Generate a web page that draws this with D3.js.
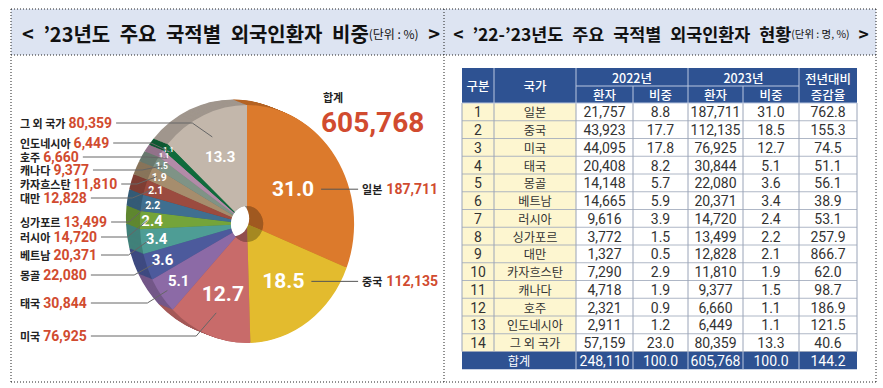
<!DOCTYPE html>
<html>
<head>
<meta charset="utf-8">
<script src="https://cdn.jsdelivr.net/npm/d3@7"></script>
<style>
  body { margin: 0; background: #fff; }
  svg { display: block; font-family: "Noto Sans CJK KR", "Noto Sans", sans-serif; }
  .num { font-family: Roboto, "Noto Sans", sans-serif; font-weight: 700; }
  .digits { font-family: Roboto, "Noto Sans", sans-serif; }
</style>
</head>
<body>
<svg id="chart" width="883" height="388"></svg>
<script>
const countries = ["일본", "중국", "미국", "태국", "몽골", "베트남", "러시아", "싱가포르", "대만", "카자흐스탄", "캐나다", "호주", "인도네시아", "그 외 국가"];
const patients2022 = [21757, 43923, 44095, 20408, 14148, 14665, 9616, 3772, 1327, 7290, 4718, 2321, 2911, 57159];
const share2022 = [8.8, 17.7, 17.8, 8.2, 5.7, 5.9, 3.9, 1.5, 0.5, 2.9, 1.9, 0.9, 1.2, 23.0];
const patients2023 = [187711, 112135, 76925, 30844, 22080, 20371, 14720, 13499, 12828, 11810, 9377, 6660, 6449, 80359];
const share2023 = [31.0, 18.5, 12.7, 5.1, 3.6, 3.4, 2.4, 2.2, 2.1, 1.9, 1.5, 1.1, 1.1, 13.3];
const growth = [762.8, 155.3, 74.5, 51.1, 56.1, 38.9, 53.1, 257.9, 866.7, 62.0, 98.7, 186.9, 121.5, 40.6];
const totalRow = ["합계", 248110, 100.0, 605768, 100.0, 144.2];
const sliceColors = ["#dc7a2c", "#e3bb2e", "#c86b6a", "#8c6aa6", "#4c5a9c", "#4e9d95", "#74a43a",
  "#3f6f90", "#9b4b3f", "#a68d6d", "#7f9386", "#b28ba8", "#0f6b3c", "#c3b7ab"];
// hand-placed rows of the left call-out labels (미국 ... 그 외 국가)
const leftLabelY = [336, 303, 275, 255, 237, 222, 198, 184, 170, 157, 143, 123];

const data = countries.map((name, i) => ({
  name, rank: i + 1, p2022: patients2022[i], s2022: share2022[i],
  p2023: patients2023[i], s2023: share2023[i], growth: growth[i], color: sliceColors[i],
}));

const svg = d3.select("#chart");
const comma = d3.format(",");
const one = d3.format(".1f");

// ---------- frame ----------
const frame = { x0: 11, x1: 876, y0: 9, y1: 382, yHead: 55, xMid: 444 };
svg.append("rect").attr("x", frame.x0).attr("y", frame.y0)
  .attr("width", frame.x1 - frame.x0).attr("height", frame.yHead - frame.y0).attr("fill", "#dde4f2");
const edges = [
  [frame.x0, frame.y0, frame.x1, frame.y0], [frame.x0, frame.yHead, frame.x1, frame.yHead],
  [frame.x0, frame.y1, frame.x1, frame.y1], [frame.x0, frame.y0, frame.x0, frame.y1],
  [frame.x1, frame.y0, frame.x1, frame.y1], [frame.xMid, frame.y0, frame.xMid, frame.y1],
];
svg.selectAll("line.frame").data(edges).join("line").attr("class", "frame")
  .attr("x1", (d) => d[0]).attr("y1", (d) => d[1]).attr("x2", (d) => d[2]).attr("y2", (d) => d[3])
  .attr("stroke", "#222").attr("stroke-width", 1).attr("stroke-dasharray", "1 2");

function title(cx, main, unit, width) {
  const t = svg.append("text").attr("x", cx).attr("y", 33).attr("text-anchor", "middle")
    .attr("dominant-baseline", "central").attr("fill", "#111").attr("font-weight", 700)
    .style("word-spacing", "5px");
  const big = t.append("tspan").attr("font-size", 20).text(main);
  const small = t.append("tspan").attr("font-size", 12).attr("font-weight", 400).style("word-spacing", "0px").text(unit);
  const tail = t.append("tspan").attr("font-size", 20).text(" >");
  const w = t.node().getComputedTextLength();
  if (w > width) {
    const k = width / w;
    big.attr("font-size", 20 * k);
    tail.attr("font-size", 20 * k);
    small.attr("font-size", 12 * k);
  }
}
title(231, "< ’23년도 주요 국적별 외국인환자 비중", "(단위 : %)", 418);
title(661, "< ’22-’23년도 주요 국적별 외국인환자 현황", "(단위 : 명, %)", 412);

// ---------- pie ----------
const cx = 247, cy = 224, R = 119, sx = 0.9, rHole = 18, depth = 14, lift = 0.4;
const pie = d3.pie().sort(null).value((d) => d.p2023);
const arcs = pie(data);
const arc = d3.arc().innerRadius(0).outerRadius(R);
const faceArc = d3.arc().innerRadius(rHole).outerRadius(R);
const holeArc = d3.arc().innerRadius(0).outerRadius(rHole);
const pt = (a, k) => [cx + sx * R * k * Math.sin(a), cy - R * k * Math.cos(a)];
const mid = (d) => (d.startAngle + d.endAngle) / 2;

const pieG = svg.append("g");
const offsets = d3.range(depth, 0, -1);
pieG.selectAll("g.wall").data(offsets).join("g").attr("class", "wall")
  .attr("transform", (t) => `translate(${cx - t},${cy - t * lift}) scale(${sx},1)`)
  .selectAll("path").data(arcs).join("path")
  .attr("d", arc).attr("fill", (d) => d3.color(d.data.color).darker(0.55));

const face = pieG.append("g").attr("transform", `translate(${cx},${cy}) scale(${sx},1)`);
face.selectAll("path.face").data(arcs).join("path").attr("class", "face")
  .attr("d", faceArc).attr("fill", (d) => d.data.color);
face.selectAll("path.hole").data(arcs).join("path").attr("class", "hole")
  .attr("d", holeArc).attr("fill", (d) => d3.color(d.data.color).darker(0.9));
svg.append("clipPath").attr("id", "holeClip").append("circle").attr("r", rHole);
face.append("g").attr("clip-path", "url(#holeClip)").append("circle")
  .attr("cx", -depth / sx).attr("cy", -depth * lift).attr("r", rHole).attr("fill", "#fff");

// slice values
const labelK = d3.scaleLinear().domain([1, 2, 5, 13, 31]).range([0.97, 0.9, 0.8, 0.62, 0.52]).clamp(true);
const labelSize = d3.scaleThreshold().domain([1.3, 1.7, 2.3, 12]).range([7.5, 8.5, 10.5, 15, 21]);
const sizeOf = (d) => (d.data.name === "그 외 국가" ? 15 : labelSize(d.data.s2023));
const labelPos = (d) => pt(mid(d), labelK(d.data.s2023));
svg.selectAll("text.slice").data(arcs).join("text").attr("class", "slice num")
  .attr("x", (d) => labelPos(d)[0]).attr("y", (d) => labelPos(d)[1])
  .attr("text-anchor", "middle").attr("dominant-baseline", "central")
  .attr("font-size", sizeOf).attr("fill", "#fff").text((d) => one(d.data.s2023));

// right call-outs
const rightArcs = arcs.filter((d) => mid(d) < Math.PI);
const rightX = cx + sx * R + 8;
const rightG = svg.selectAll("g.right").data(rightArcs).join("g").attr("class", "right");
rightG.append("line")
  .attr("x1", (d) => labelPos(d)[0] + sizeOf(d) * 1.05 + 6).attr("x2", rightX - 4)
  .attr("y1", (d) => labelPos(d)[1]).attr("y2", (d) => labelPos(d)[1])
  .attr("stroke", "#555").attr("stroke-width", 1);
const rightT = rightG.append("text").attr("x", rightX).attr("y", (d) => labelPos(d)[1])
  .attr("dominant-baseline", "central");
rightT.append("tspan").attr("font-size", 11).attr("font-weight", 700).attr("fill", "#222").text((d) => d.data.name);
rightT.append("tspan").attr("class", "num").attr("dx", 4).attr("font-size", 14).attr("fill", "#d14b2f")
  .text((d) => comma(d.data.p2023));

// total
svg.append("text").attr("x", 323).attr("y", 97).attr("dominant-baseline", "central")
  .attr("font-size", 11).attr("font-weight", 700).attr("fill", "#222").text(totalRow[0]);
svg.append("text").attr("class", "num").attr("x", 321).attr("y", 122).attr("dominant-baseline", "central")
  .attr("font-size", 28).attr("fill", "#d14b2f").text(comma(d3.sum(patients2023)));

// left call-outs
const leftArcs = arcs.filter((d) => mid(d) >= Math.PI);
const leftG = svg.selectAll("g.left").data(leftArcs).join("g").attr("class", "left");
const leftT = leftG.append("text").attr("x", 20).attr("y", (d, i) => leftLabelY[i])
  .attr("dominant-baseline", "central");
leftT.append("tspan").attr("font-size", 11).attr("font-weight", 700).attr("fill", "#222").text((d) => d.data.name);
leftT.append("tspan").attr("class", "num").attr("dx", 3).attr("font-size", 14).attr("fill", "#d14b2f")
  .text((d) => comma(d.data.p2023));
leftG.each(function (d, i) {
  const g = d3.select(this);
  const end = g.select("text").node().getBBox();
  const y = leftLabelY[i];
  const anchor = pt(mid(d), d.data.s2023 >= 10 ? 0.8 : 0.93);
  const x0 = end.x + end.width + 4;
  const elbow = Math.max(x0, anchor[0] - 20);
  g.append("polyline")
    .attr("points", [[x0, y], [elbow, y], anchor].map((p) => p.join(",")).join(" "))
    .attr("fill", "none").attr("stroke", "#666").attr("stroke-width", 1);
});

// ---------- table ----------
const cols = [462, 494, 576, 633, 688, 743, 799, 857];
const yTop = 68, yMidHead = 86, yBody = 103, rowH = 17.75;
const rowY = d3.scaleLinear().domain([0, data.length + 1]).range([yBody, yBody + (data.length + 1) * rowH]);
const navy = "#2e5292";
const tbl = svg.append("g");

tbl.append("rect").attr("x", cols[0]).attr("y", yTop).attr("width", cols[7] - cols[0])
  .attr("height", yBody - yTop).attr("fill", navy);
const rows = tbl.selectAll("g.row").data(data).join("g").attr("class", "row")
  .attr("transform", (d, i) => `translate(0,${rowY(i)})`);
rows.append("rect").attr("x", cols[0]).attr("width", cols[2] - cols[0]).attr("height", rowH).attr("fill", "#fdf6d0");
rows.append("rect").attr("x", cols[2]).attr("width", cols[7] - cols[2]).attr("height", rowH).attr("fill", "#fff");
const totalY = rowY(data.length);
tbl.append("rect").attr("x", cols[0]).attr("y", totalY).attr("width", cols[7] - cols[0])
  .attr("height", rowH).attr("fill", navy);

// body grid
const gridColor = "#9aa4b8";
tbl.selectAll("line.hrow").data(d3.range(1, data.length + 1)).join("line").attr("class", "hrow")
  .attr("x1", cols[0]).attr("x2", cols[7]).attr("y1", (i) => rowY(i)).attr("y2", (i) => rowY(i))
  .attr("stroke", gridColor).attr("stroke-width", 0.8);
tbl.selectAll("line.vbody").data(cols).join("line").attr("class", "vbody")
  .attr("x1", (x) => x).attr("x2", (x) => x).attr("y1", yBody).attr("y2", totalY)
  .attr("stroke", gridColor).attr("stroke-width", 1);
// header / total separators
const light = "#b9c6e0";
const headLines = [
  [cols[1], yTop, cols[1], yBody], [cols[2], yTop, cols[2], yBody], [cols[4], yTop, cols[4], yBody],
  [cols[6], yTop, cols[6], yBody], [cols[3], yMidHead, cols[3], yBody], [cols[5], yMidHead, cols[5], yBody],
  [cols[2], yMidHead, cols[6], yMidHead], [cols[0], yBody, cols[7], yBody],
  ...cols.slice(2, 7).map((x) => [x, totalY, x, totalY + rowH]),
];
tbl.selectAll("line.head").data(headLines).join("line").attr("class", "head")
  .attr("x1", (d) => d[0]).attr("y1", (d) => d[1]).attr("x2", (d) => d[2]).attr("y2", (d) => d[3])
  .attr("stroke", light).attr("stroke-width", 1);

const cx2 = (a, b) => (cols[a] + cols[b]) / 2;
const headTexts = [
  ["구분", cx2(0, 1), (yTop + yBody) / 2], ["국가", cx2(1, 2), (yTop + yBody) / 2],
  ["2022년", cx2(2, 4), (yTop + yMidHead) / 2], ["2023년", cx2(4, 6), (yTop + yMidHead) / 2],
  ["환자", cx2(2, 3), (yMidHead + yBody) / 2], ["비중", cx2(3, 4), (yMidHead + yBody) / 2],
  ["환자", cx2(4, 5), (yMidHead + yBody) / 2], ["비중", cx2(5, 6), (yMidHead + yBody) / 2],
  ["전년대비", cx2(6, 7), (yTop + yMidHead) / 2 + 1], ["증감율", cx2(6, 7), (yMidHead + yBody) / 2],
];
tbl.selectAll("text.head").data(headTexts).join("text").attr("class", "head")
  .attr("x", (d) => d[1]).attr("y", (d) => d[2]).attr("text-anchor", "middle").attr("dominant-baseline", "central")
  .attr("font-size", 12.5).attr("font-weight", 500).attr("fill", "#fff").text((d) => d[0]);

const cellText = (d) => [d.rank, d.name, comma(d.p2022), one(d.s2022), comma(d.p2023), one(d.s2023), one(d.growth)];
rows.selectAll("text").data((d) => cellText(d)).join("text")
  .attr("class", (v, j) => (j === 1 ? "name" : "digits"))
  .attr("x", (v, j) => cx2(j, j + 1)).attr("y", rowH / 2 + 0.5)
  .attr("text-anchor", "middle").attr("dominant-baseline", "central")
  .attr("font-size", (v, j) => (j === 1 ? 12.2 : 14)).attr("fill", "#333").text((v) => v);

const totalCells = [
  [totalRow[0], cx2(0, 2), ""], [comma(totalRow[1]), cx2(2, 3), "digits"], [one(totalRow[2]), cx2(3, 4), "digits"],
  [comma(totalRow[3]), cx2(4, 5), "digits"], [one(totalRow[4]), cx2(5, 6), "digits"], [one(totalRow[5]), cx2(6, 7), "digits"],
];
tbl.selectAll("text.total").data(totalCells).join("text").attr("class", (d) => `total ${d[2]}`)
  .attr("x", (d) => d[1]).attr("y", totalY + rowH / 2 + 0.5).attr("text-anchor", "middle")
  .attr("dominant-baseline", "central").attr("font-size", (d) => (d[2] ? 14 : 12.2)).attr("fill", "#fff").text((d) => d[0]);
</script>
</body>
</html>
